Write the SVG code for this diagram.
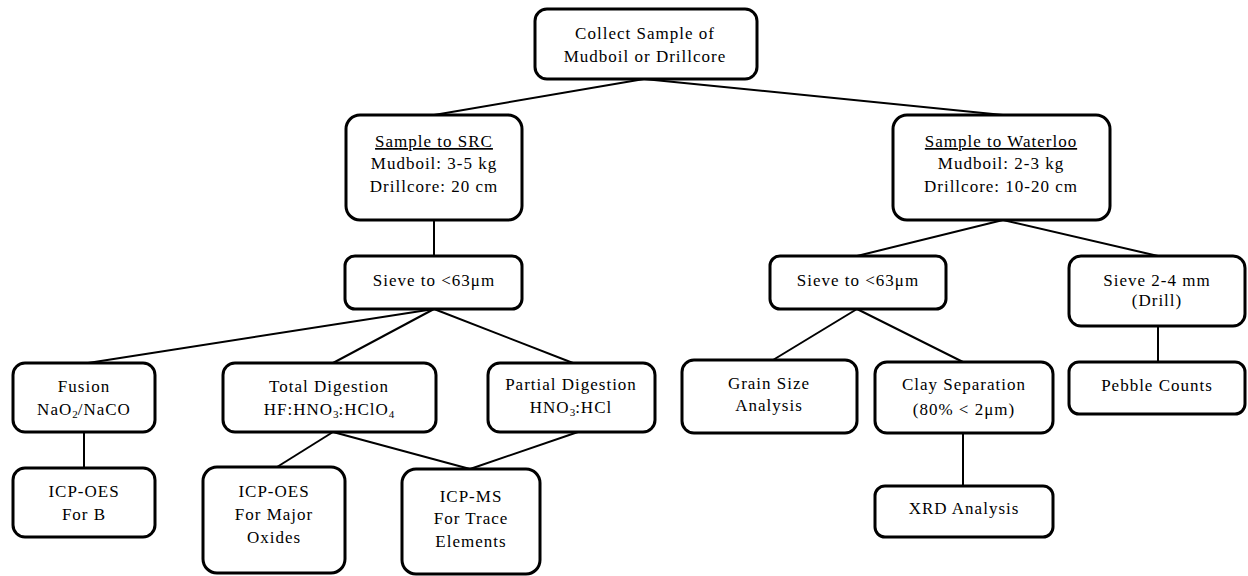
<svg xmlns="http://www.w3.org/2000/svg" width="1248" height="576" viewBox="0 0 1248 576">
<style>
.box{fill:#fff;stroke:#000;stroke-width:3}
.t{font-size:17px;fill:#000;text-anchor:middle;letter-spacing:1px}
.c{stroke:#000;stroke-width:2;fill:none}
.u{text-decoration:underline}
.s{font-size:11px;letter-spacing:0}
</style>
<rect width="1248" height="576" fill="#fff"/>
<g id="connectors">
<line class="c" x1="644" y1="79" x2="434" y2="115"/>
<line class="c" x1="644" y1="79" x2="1003" y2="115"/>
<line class="c" x1="434" y1="220" x2="434" y2="256"/>
<line class="c" x1="434" y1="309" x2="88" y2="363"/>
<line class="c" x1="434" y1="309" x2="333" y2="363"/>
<line class="c" x1="434" y1="309" x2="573" y2="363"/>
<line class="c" x1="84" y1="432" x2="84" y2="468"/>
<line class="c" x1="333" y1="432" x2="277" y2="467"/>
<line class="c" x1="333" y1="432" x2="470" y2="469"/>
<line class="c" x1="578" y1="432" x2="470" y2="469"/>
<line class="c" x1="1003" y1="220" x2="857" y2="256"/>
<line class="c" x1="1003" y1="220" x2="1158" y2="256"/>
<line class="c" x1="857" y1="309" x2="773" y2="360"/>
<line class="c" x1="857" y1="309" x2="963" y2="362"/>
<line class="c" x1="963" y1="433" x2="963" y2="486"/>
<line class="c" x1="1158" y1="326" x2="1158" y2="362"/>
</g>
<g font-family="Liberation Serif, Times New Roman, DejaVu Serif, Noto Serif, serif">
<g id="n-collect">
<rect class="box" x="535" y="9" width="222" height="70" rx="12"/>
<text class="t" x="645" y="39">Collect Sample of</text>
<text class="t" x="645" y="62">Mudboil or Drillcore</text>
</g>
<g id="n-src">
<rect class="box" x="346" y="115" width="176" height="105" rx="14"/>
<text class="t u" x="434" y="147">Sample to SRC</text>
<text class="t" x="434" y="169">Mudboil: 3-5 kg</text>
<text class="t" x="434" y="192">Drillcore: 20 cm</text>
</g>
<g id="n-waterloo">
<rect class="box" x="893" y="115" width="217" height="105" rx="14"/>
<text class="t u" x="1001" y="147">Sample to Waterloo</text>
<text class="t" x="1001" y="169">Mudboil: 2-3 kg</text>
<text class="t" x="1001" y="192">Drillcore: 10-20 cm</text>
</g>
<g id="n-sieve-src">
<rect class="box" x="345" y="256" width="177" height="53" rx="10"/>
<text class="t" x="434" y="286">Sieve to &lt;63μm</text>
</g>
<g id="n-sieve-w">
<rect class="box" x="770" y="256" width="176" height="53" rx="10"/>
<text class="t" x="858" y="286">Sieve to &lt;63μm</text>
</g>
<g id="n-sieve24">
<rect class="box" x="1069" y="256" width="176" height="70" rx="12"/>
<text class="t" x="1157" y="286">Sieve 2-4 mm</text>
<text class="t" x="1157" y="306">(Drill)</text>
</g>
<g id="n-fusion">
<rect class="box" x="13" y="363" width="142" height="69" rx="12"/>
<text class="t" x="84" y="392">Fusion</text>
<text class="t" x="84" y="415">NaO<tspan class="s" dy="3">2</tspan><tspan dy="-3">/NaCO</tspan></text>
</g>
<g id="n-total">
<rect class="box" x="223" y="363" width="213" height="69" rx="12"/>
<text class="t" x="329" y="392">Total Digestion</text>
<text class="t" x="329" y="415">HF:HNO<tspan class="s" dy="3">3</tspan><tspan dy="-3">:HClO</tspan><tspan class="s" dy="3">4</tspan></text>
</g>
<g id="n-partial">
<rect class="box" x="488" y="363" width="167" height="69" rx="12"/>
<text class="t" x="571" y="390">Partial Digestion</text>
<text class="t" x="571" y="413">HNO<tspan class="s" dy="3">3</tspan><tspan dy="-3">:HCl</tspan></text>
</g>
<g id="n-grain">
<rect class="box" x="682" y="360" width="175" height="73" rx="12"/>
<text class="t" x="769" y="389">Grain Size</text>
<text class="t" x="769" y="411">Analysis</text>
</g>
<g id="n-clay">
<rect class="box" x="875" y="362" width="178" height="71" rx="12"/>
<text class="t" x="964" y="390">Clay Separation</text>
<text class="t" x="964" y="415">(80% &lt; 2μm)</text>
</g>
<g id="n-pebble">
<rect class="box" x="1069" y="362" width="176" height="52" rx="10"/>
<text class="t" x="1157" y="391">Pebble Counts</text>
</g>
<g id="n-icpoes-b">
<rect class="box" x="13" y="468" width="142" height="69" rx="12"/>
<text class="t" x="84" y="497">ICP-OES</text>
<text class="t" x="84" y="520">For B</text>
</g>
<g id="n-icpoes-major">
<rect class="box" x="203" y="467" width="142" height="106" rx="14"/>
<text class="t" x="274" y="497">ICP-OES</text>
<text class="t" x="274" y="520">For Major</text>
<text class="t" x="274" y="543">Oxides</text>
</g>
<g id="n-icpms">
<rect class="box" x="402" y="469" width="138" height="105" rx="14"/>
<text class="t" x="471" y="502">ICP-MS</text>
<text class="t" x="471" y="524">For Trace</text>
<text class="t" x="471" y="547">Elements</text>
</g>
<g id="n-xrd">
<rect class="box" x="875" y="486" width="178" height="51" rx="10"/>
<text class="t" x="964" y="514">XRD Analysis</text>
</g>
</g>
</svg>
